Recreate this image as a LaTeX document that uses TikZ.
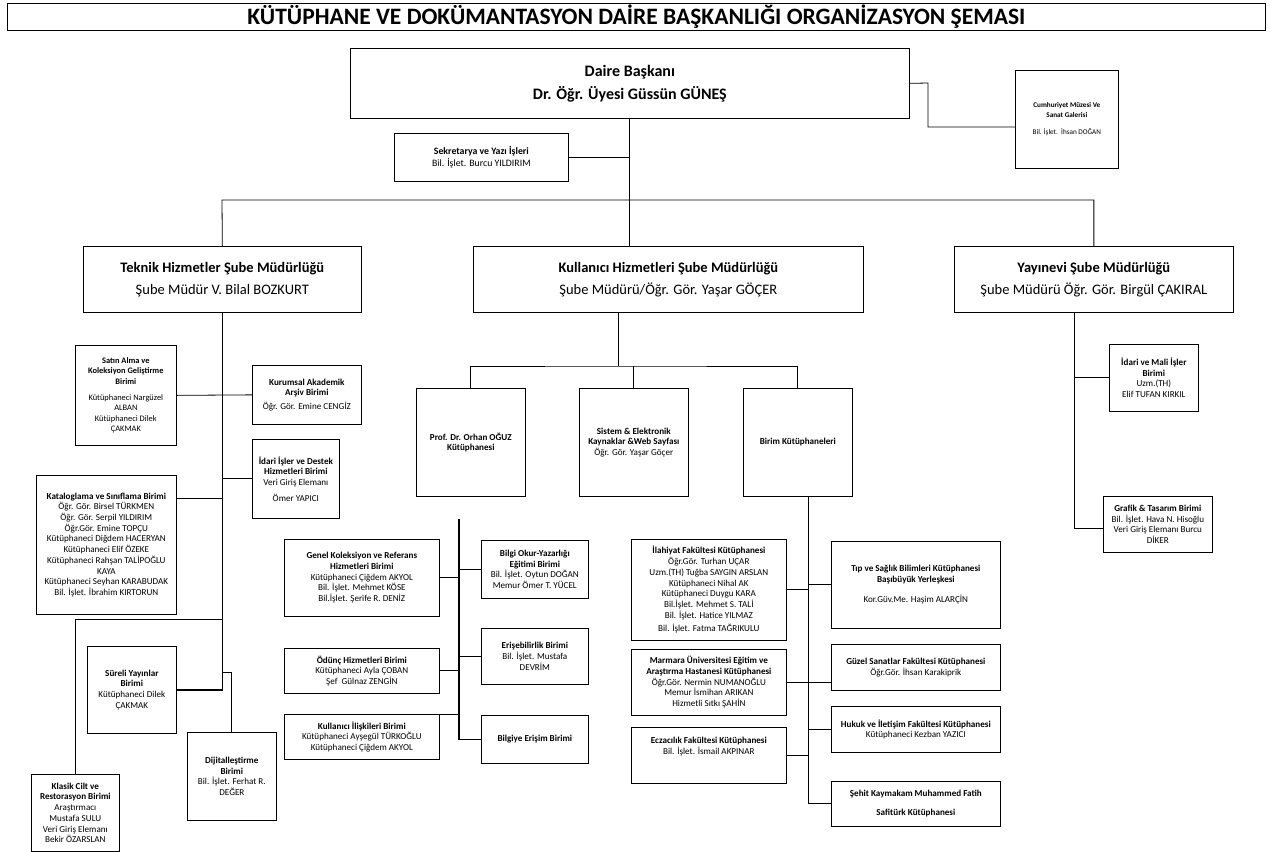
\documentclass[tikz,border=0pt]{standalone}
\usepackage{fontspec}
\setmainfont{Carlito}
\tikzset{
  unit/.style={draw, rectangle, anchor=north west, align=center, inner sep=1pt, line width=0.7pt, font=\fontsize{9.1}{10.7}\selectfont},
  head/.style={unit, font=\fontsize{14.5}{22}\selectfont},
  link/.style={line width=0.8pt},
  trunk/.style={line width=1.3pt},
}
\begin{document}
\begin{tikzpicture}[x=1pt,y=-1pt]
\useasboundingbox (0,0) rectangle (1270,852);
% title and top level
\node[unit, minimum width=1258pt, minimum height=27pt, font=\fontsize{23.5}{26}\selectfont] (baslik) at (7,3) {\textbf{KÜTÜPHANE VE DOKÜMANTASYON DAİRE BAŞKANLIĞI ORGANİZASYON ŞEMASI}};
\node[head, minimum width=559pt, minimum height=70pt, font=\fontsize{16}{23}\selectfont] (daire) at (350,48) {\textbf{Daire Başkanı}\\\textbf{Dr. Öğr. Üyesi Güssün GÜNEŞ}};
\node[unit, minimum width=103pt, minimum height=98pt, font=\fontsize{7.2}{9.5}\selectfont] (cumh) at (1015,70) {\textbf{Cumhuriyet Müzesi Ve}\\\textbf{Sanat Galerisi}\\[8pt]Bil. İşlet.\ \ İhsan DOĞAN};
\node[unit, minimum width=174pt, minimum height=48pt, font=\fontsize{9.8}{12}\selectfont] (sekr) at (394,133) {\textbf{Sekretarya ve Yazı İşleri}\\Bil. İşlet. Burcu YILDIRIM};
% branch offices
\node[head, minimum width=278pt, minimum height=66pt] (teknik) at (83,246) {\textbf{Teknik Hizmetler Şube Müdürlüğü}\\Şube Müdür V. Bilal BOZKURT};
\node[head, minimum width=390pt, minimum height=66pt] (kullanici) at (473,246) {\textbf{Kullanıcı Hizmetleri Şube Müdürlüğü}\\Şube Müdürü/Öğr. Gör. Yaşar GÖÇER};
\node[head, minimum width=279pt, minimum height=66pt] (yayin) at (954,246) {\textbf{Yayınevi Şube Müdürlüğü}\\Şube Müdürü Öğr. Gör. Birgül ÇAKIRAL};
% teknik hizmetler
\node[unit, minimum width=101pt, minimum height=100pt, font=\fontsize{8.4}{10.6}\selectfont] (satin) at (75,345) {\textbf{Satın Alma ve}\\\textbf{Koleksiyon Geliştirme}\\\textbf{Birimi}\\[5pt]Kütüphaneci Nargüzel\\ALBAN\\Kütüphaneci Dilek\\ÇAKMAK};
\node[unit, minimum width=109pt, minimum height=59pt] (kurumsal) at (252,365) {\textbf{Kurumsal Akademik}\\\textbf{Arşiv Birimi}\\[3pt]Öğr. Gör. Emine CENGİZ};
\node[unit, minimum width=87pt, minimum height=79pt] (idari) at (252,439) {\textbf{İdari İşler ve Destek}\\\textbf{Hizmetleri Birimi}\\Veri Giriş Elemanı\\[5pt]Ömer YAPICI};
\node[unit, minimum width=140pt, minimum height=139pt] (katalog) at (36,475) {\textbf{Kataloglama ve Sınıflama Birimi}\\Öğr. Gör. Birsel TÜRKMEN\\Öğr. Gör. Serpil YILDIRIM\\Öğr.Gör. Emine TOPÇU\\Kütüphaneci Diğdem HACERYAN\\Kütüphaneci Elif ÖZEKE\\Kütüphaneci Rahşan TALİPOĞLU\\KAYA\\Kütüphaneci Seyhan KARABUDAK\\Bil. İşlet. İbrahim KIRTORUN};
\node[unit, minimum width=89pt, minimum height=87pt] (sureli) at (87,646) {\textbf{Süreli Yayınlar}\\\textbf{Birimi}\\Kütüphaneci Dilek\\ÇAKMAK};
\node[unit, minimum width=89pt, minimum height=88pt] (dijital) at (187,732) {\textbf{Dijitalleştirme}\\\textbf{Birimi}\\Bil. İşlet. Ferhat R.\\DEĞER};
\node[unit, minimum width=88pt, minimum height=77pt] (klasik) at (31,774) {\textbf{Klasik Cilt ve}\\\textbf{Restorasyon Birimi}\\Araştırmacı\\Mustafa SULU\\Veri Giriş Elemanı\\Bekir ÖZARSLAN};
% kullanici hizmetleri
\node[unit, minimum width=109pt, minimum height=108pt] (prof) at (416,388) {\textbf{Prof. Dr. Orhan OĞUZ}\\\textbf{Kütüphanesi}};
\node[unit, minimum width=109pt, minimum height=108pt] (sistem) at (579,388) {\textbf{Sistem \& Elektronik}\\\textbf{Kaynaklar \&Web Sayfası}\\Öğr. Gör. Yaşar Göçer};
\node[unit, minimum width=109pt, minimum height=108pt] (birim) at (743,388) {\textbf{Birim Kütüphaneleri}};
\node[unit, minimum width=155pt, minimum height=77pt] (genel) at (284,539) {\textbf{Genel Koleksiyon ve Referans}\\\textbf{Hizmetleri Birimi}\\Kütüphaneci Çiğdem AKYOL\\Bil. İşlet. Mehmet KÖSE\\Bil.İşlet. Şerife R. DENİZ};
\node[unit, minimum width=155pt, minimum height=45pt] (odunc) at (284,648) {\textbf{Ödünç Hizmetleri Birimi}\\Kütüphaneci Ayla ÇOBAN\\Şef\ \ Gülnaz ZENGİN};
\node[unit, minimum width=155pt, minimum height=45pt] (iliski) at (284,714) {\textbf{Kullanıcı İlişkileri Birimi}\\Kütüphaneci Ayşegül TÜRKOĞLU\\Kütüphaneci Çiğdem AKYOL};
\node[unit, minimum width=107pt, minimum height=58pt] (okur) at (481,540) {\textbf{Bilgi Okur-Yazarlığı}\\\textbf{Eğitimi Birimi}\\Bil. İşlet. Oytun DOĞAN\\Memur Ömer T. YÜCEL};
\node[unit, minimum width=107pt, minimum height=56pt] (erisebilir) at (481,628) {\textbf{Erişebilirlik Birimi}\\Bil. İşlet. Mustafa\\DEVRİM};
\node[unit, minimum width=107pt, minimum height=48pt] (erisim) at (481,715) {\textbf{Bilgiye Erişim Birimi}};
% birim kutuphaneleri
\node[unit, minimum width=155pt, minimum height=101pt] (ilahiyat) at (631,539) {\textbf{İlahiyat Fakültesi Kütüphanesi}\\Öğr.Gör. Turhan UÇAR\\Uzm.(TH) Tuğba SAYGIN ARSLAN\\Kütüphaneci Nihal AK\\Kütüphaneci Duygu KARA\\Bil.İşlet. Mehmet S. TALİ\\Bil. İşlet. Hatice YILMAZ\\[3pt]Bil. İşlet. Fatma TAĞRIKULU};
\node[unit, minimum width=155pt, minimum height=66pt] (marmara) at (631,649) {\textbf{Marmara Üniversitesi Eğitim ve}\\\textbf{Araştırma Hastanesi Kütüphanesi}\\Öğr.Gör. Nermin NUMANOĞLU\\Memur İsmihan ARIKAN\\Hizmetli Sıtkı ŞAHİN};
\node[unit, minimum width=155pt, minimum height=56pt] (eczaci) at (631,727) {\textbf{Eczacılık Fakültesi Kütüphanesi}\\Bil. İşlet. İsmail AKPINAR\\[8pt]};
\node[unit, minimum width=169pt, minimum height=87pt] (tip) at (831,541) {\textbf{Tıp ve Sağlık Bilimleri Kütüphanesi}\\\textbf{Başıbüyük Yerleşkesi}\\[10pt]Kor.Güv.Me. Haşim ALARÇİN};
\node[unit, minimum width=169pt, minimum height=46pt] (guzel) at (831,644) {\textbf{Güzel Sanatlar Fakültesi Kütüphanesi}\\Öğr.Gör. İhsan Karakiprik};
\node[unit, minimum width=169pt, minimum height=46pt] (hukuk) at (831,706) {\textbf{Hukuk ve İletişim Fakültesi Kütüphanesi}\\Kütüphaneci Kezban YAZICI};
\node[unit, minimum width=169pt, minimum height=45pt] (sehit) at (831,781) {\textbf{Şehit Kaymakam Muhammed Fatih}\\[8pt]\textbf{Safitürk Kütüphanesi}};
% yayinevi
\node[unit, minimum width=89pt, minimum height=67pt] (mali) at (1109,344) {\textbf{İdari ve Mali İşler}\\\textbf{Birimi}\\Uzm.(TH)\\Elif TUFAN KIRKIL};
\node[unit, minimum width=109pt, minimum height=56pt] (grafik) at (1103,496) {\textbf{Grafik \& Tasarım Birimi}\\Bil. İşlet. Hava N. Hisoğlu\\Veri Giriş Elemanı Burcu\\DİKER};
% connectors
\coordinate (bus) at (222,200);
\coordinate (kdrop) at (618,366);
\coordinate (pt) at (459,519);
\coordinate (bt) at (808,0);
\coordinate (yt) at (1074,0);
\draw[link] (daire.south) -- (daire.south |- kullanici.north);
\draw[link] (sekr.east) -- (sekr.east -| daire.south);
\draw[link] (daire.east) -- (928,83) |- (cumh.west |- 0,127);
\draw[link] (teknik.north) -- (bus) -| (yayin.north);
% teknik tree
\draw[link] (teknik.south) -- (teknik.south |- satin.east);
\draw[trunk] (teknik.south |- satin.east) |- (sureli.east);
\draw[link] (satin.east) -- (kurumsal.west);
\draw[link] (idari.west) -- (idari.west -| teknik.south);
\draw[link] (katalog.east |- 0,498) -- (teknik.south |- 0,498);
\draw[link] (teknik.south |- 0,619) -| (klasik.north);
\draw[link] (teknik.south |- 0,672) -| (dijital.north);
% kullanici tree
\draw[link] (kdrop |- kullanici.south) -- (kdrop);
\draw[link] (prof.north) |- (kdrop) -| (birim.north);
\draw[link] (sistem.north) -- (sistem.north |- kdrop);
\draw[trunk] (pt) |- (erisim.west);
\draw[link] (genel.east) -- (genel.east -| pt);
\draw[link] (odunc.east) -- (odunc.east -| pt);
\draw[link] (iliski.north east) -- (iliski.north east -| pt);
\draw[link] (okur.west) -- (okur.west -| pt);
\draw[link] (erisebilir.west) -- (erisebilir.west -| pt);
% birim tree
\draw[link] (birim.south -| bt) |- (sehit.west);
\draw[link] (ilahiyat.east) -- (ilahiyat.east -| bt);
\draw[link] (tip.west) -- (tip.west -| bt);
\draw[link] (marmara.east |- 0,682) -- (guzel.west |- 0,682);
\draw[link] (eczaci.east) -- (eczaci.east -| bt);
\draw[link] (hukuk.west) -- (hukuk.west -| bt);
% yayinevi tree
\draw[link] (yayin.south -| yt) |- (grafik.west |- 0,528);
\draw[link] (mali.west) -- (mali.west -| yt);
\end{tikzpicture}
\end{document}
